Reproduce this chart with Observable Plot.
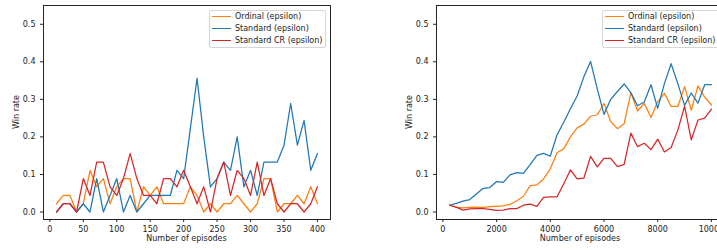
<!DOCTYPE html>
<html><head><meta charset="utf-8">
<script src="https://cdn.jsdelivr.net/npm/d3@7"></script>
<script src="https://cdn.jsdelivr.net/npm/@observablehq/plot@0.6"></script>
<style>
body{margin:0;background:#fff;}
#wrap{position:relative;width:717px;height:250px;overflow:hidden;font-family:"DejaVu Sans",sans-serif;background:#fff;}
.panel{position:absolute;top:0;height:250px;}
.panel svg{max-width:none !important;}
.lbl{position:absolute;font-size:8px;color:#222;white-space:nowrap;line-height:10px;}
.legend{position:absolute;border:1px solid #d6d6d6;border-radius:2px;background:rgba(255,255,255,0.85);box-sizing:border-box;}
.row{position:absolute;left:0;height:10px;width:140px;}
.sw{position:absolute;left:2px;width:19px;height:1.3px;top:4.4px;}
.tx{position:absolute;left:25px;top:0;font-size:8px;line-height:10px;color:#222;white-space:nowrap;}
</style></head>
<body><div id="wrap"></div>
<script>
const seriesNames = ["Ordinal (epsilon)", "Standard (epsilon)", "Standard CR (epsilon)"];
const seriesColors = ["#ff7f0e", "#1f77b4", "#d62728"];
const yTicks = [0, 0.1, 0.2, 0.3, 0.4, 0.5];

// Left panel
const leftEpisodes = [10,20,30,40,50,60,70,80,90,100,110,120,130,140,150,160,170,180,190,200,
  210,220,230,240,250,260,270,280,290,300,310,320,330,340,350,360,370,380,390,400];
const leftOrdinal = [0.022,0.044,0.044,0,0.022,0.111,0.067,0.089,0.022,0.067,0.089,0.089,0,0.067,0.044,0.067,0.022,0.022,0.022,0.022,
  0.067,0.044,0,0.022,0,0.022,0.022,0.044,0.022,0,0.022,0.089,0.089,0,0.022,0.022,0.044,0.022,0.067,0.022];
const leftStandard = [0,0.022,0.022,0,0.022,0,0.089,0,0.044,0.089,0,0.044,0,0.022,0.044,0.044,0.044,0.044,0.111,0.089,
  0.222,0.356,0.2,0.067,0.089,0.133,0.111,0.2,0.067,0.111,0.044,0.133,0.133,0.133,0.178,0.289,0.178,0.244,0.111,0.156];
const leftStandardCR = [0,0.022,0.022,0,0.089,0.044,0.133,0.133,0.067,0.044,0.089,0.156,0.089,0.044,0.044,0.022,0.089,0.089,0.067,0.111,
  0.067,0.022,0.067,0,0.089,0.133,0.044,0.111,0.089,0.044,0.133,0.044,0.089,0.022,0,0.022,0.022,0,0.022,0.067];
const leftXTicks = [0,50,100,150,200,250,300,350,400];

// Right panel
const rightEpisodes = [250,500,750,1000,1250,1500,1750,2000,2250,2500,2750,3000,3250,3500,3750,4000,4250,4500,4750,5000,
  5250,5500,5750,6000,6250,6500,6750,7000,7250,7500,7750,8000,8250,8500,8750,9000,9250,9500,9750,10000];
const rightOrdinal = [0.018,0.012,0.011,0.012,0.013,0.012,0.014,0.015,0.016,0.02,0.03,0.042,0.07,0.072,0.088,0.115,0.158,0.168,0.2,0.224,
  0.234,0.255,0.259,0.289,0.241,0.222,0.235,0.318,0.269,0.289,0.252,0.294,0.316,0.281,0.281,0.334,0.271,0.336,0.306,0.285];
const rightStandard = [0.018,0.023,0.029,0.033,0.048,0.063,0.065,0.081,0.079,0.099,0.105,0.103,0.126,0.151,0.156,0.149,0.205,0.239,0.275,0.309,
  0.36,0.401,0.328,0.26,0.3,0.321,0.341,0.318,0.283,0.293,0.339,0.276,0.342,0.395,0.342,0.284,0.317,0.29,0.339,0.339];
const rightStandardCR = [0.018,0.013,0.005,0.008,0.009,0.009,0.007,0.004,0.005,0.009,0.009,0.018,0.021,0.015,0.039,0.04,0.04,0.075,0.112,0.088,
  0.09,0.148,0.12,0.143,0.143,0.121,0.127,0.21,0.174,0.183,0.166,0.194,0.16,0.172,0.218,0.282,0.192,0.245,0.25,0.274];
const rightXTicks = [0,2000,4000,6000,8000,10000];

const wrap = document.getElementById("wrap");

function addPanel(cfg) {
  const rows = [];
  cfg.series.forEach((vals, i) => vals.forEach((v, j) => rows.push({x: cfg.xs[j], y: v, s: seriesNames[i]})));
  const svg = Plot.plot({
    width: cfg.width, height: 250,
    marginLeft: cfg.marginLeft, marginRight: cfg.marginRight, marginTop: 5, marginBottom: 31,
    style: {fontFamily: "DejaVu Sans, sans-serif", fontSize: "8px", color: "#222", background: "transparent", overflow: "visible", maxWidth: "none"},
    x: {domain: cfg.xDomain, label: null},
    y: {domain: [-0.02, 0.55], label: null},
    color: {domain: seriesNames, range: seriesColors},
    marks: [
      Plot.lineY(rows, {x: "x", y: "y", z: "s", stroke: "s", strokeWidth: 1.25}),
      Plot.frame({stroke: "#262626", strokeWidth: 1}),
      Plot.axisX({ticks: cfg.xTicks, tickSize: 3, tickPadding: 4, tickFormat: d => String(d), label: null, stroke: "#262626"}),
      Plot.axisY({ticks: yTicks, tickSize: 3, tickPadding: 5, tickFormat: d3.format(".1f"), label: null, stroke: "#262626"})
    ]
  });
  svg.style.maxWidth = "none";
  const holder = document.createElement("div");
  holder.className = "panel";
  holder.style.left = cfg.left + "px";
  holder.style.width = cfg.width + "px";
  holder.appendChild(svg);
  wrap.appendChild(holder);

  const frameL = cfg.left + cfg.marginLeft;
  const frameR = cfg.left + cfg.width - cfg.marginRight;
  // x label
  const xl = document.createElement("div");
  xl.className = "lbl";
  xl.textContent = "Number of episodes";
  xl.style.left = ((frameL + frameR) / 2) + "px";
  xl.style.top = "234px";
  xl.style.transform = "translateX(-50%)";
  wrap.appendChild(xl);
  // y label
  const yl = document.createElement("div");
  yl.className = "lbl";
  yl.textContent = "Win rate";
  yl.style.left = (frameL - 26) + "px";
  yl.style.top = "112px";
  yl.style.transform = "translate(-50%,-50%) rotate(-90deg)";
  wrap.appendChild(yl);
  // legend
  const lg = document.createElement("div");
  lg.className = "legend";
  lg.style.left = cfg.legendLeft + "px";
  lg.style.top = "10px";
  lg.style.width = "117px";
  lg.style.height = "38px";
  const rowTops = [0.8, 12.5, 24.6];
  seriesNames.forEach((name, i) => {
    const r = document.createElement("div");
    r.className = "row";
    r.style.top = rowTops[i] + "px";
    const sw = document.createElement("div");
    sw.className = "sw";
    sw.style.background = seriesColors[i];
    const tx = document.createElement("div");
    tx.className = "tx";
    tx.textContent = name;
    r.appendChild(sw); r.appendChild(tx);
    lg.appendChild(r);
  });
  wrap.appendChild(lg);
}

addPanel({xs: leftEpisodes, series: [leftOrdinal, leftStandard, leftStandardCR],
  xDomain: [-9.5, 419.5], xTicks: leftXTicks, left: 0, width: 360, marginLeft: 43, marginRight: 30, legendLeft: 209});
addPanel({xs: rightEpisodes, series: [rightOrdinal, rightStandard, rightStandardCR],
  xDomain: [-237.5, 10487.5], xTicks: rightXTicks, left: 360, width: 394, marginLeft: 76, marginRight: 30, legendLeft: 602});
</script>
</body></html>
